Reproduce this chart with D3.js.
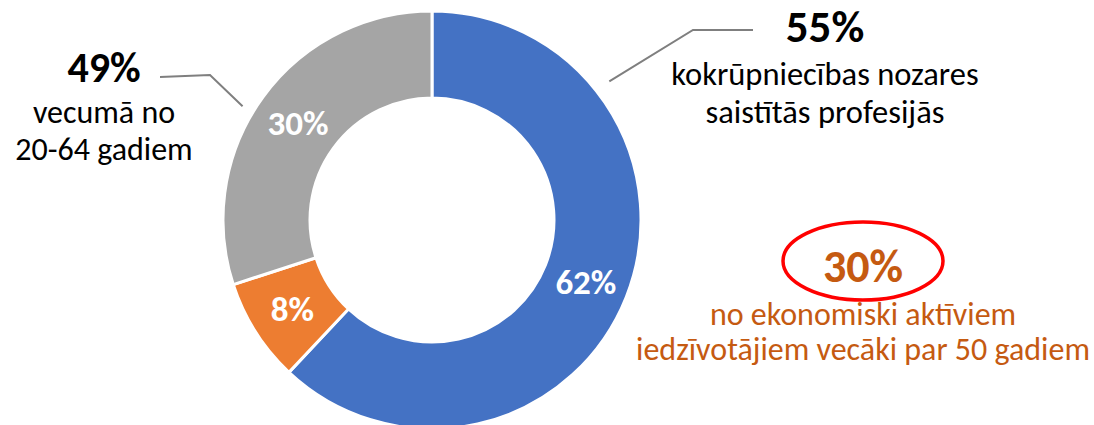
<!DOCTYPE html>
<html>
<head>
<meta charset="utf-8">
<script src="https://cdn.jsdelivr.net/npm/d3@7"></script>
<style>
  html, body { margin: 0; padding: 0; background: #fff; }
  svg text { font-family: Carlito, Lato, "Open Sans", sans-serif; }
</style>
</head>
<body>
<div id="chart"></div>
<script>
// donut slices
var sliceNames = ["kokrūpniecības nozares", "citas nozares A", "citas nozares B"];
var sliceValues = [62, 8, 30];
var sliceColors = ["#4472C4", "#ED7D31", "#A5A5A5"];

// callouts
var leftCallout = ["49%", "vecumā no", "20-64 gadiem"];
var rightCallout = ["55%", "kokrūpniecības nozares", "saistītās profesijās"];
var bottomCallout = ["30%", "no ekonomiski aktīviem", "iedzīvotājiem vecāki par 50 gadiem"];

var width = 1094, height = 425;
var cx = 432, cy = 220,
    outerR = 209, innerR = 122;

var svg = d3.select("#chart").append("svg")
    .attr("width", width)
    .attr("height", height);

var g = svg.append("g")
    .attr("transform", "translate(" + cx + "," + cy + ")");

var pie = d3.pie().sort(null).value(function(d) { return d; });
var arc = d3.arc().innerRadius(innerR).outerRadius(outerR);
var arcs = pie(sliceValues);

g.selectAll("path.slice")
    .data(arcs)
    .enter().append("path")
    .attr("class", "slice")
    .attr("d", arc)
    .attr("fill", function(d, i) { return sliceColors[i]; })
    .attr("stroke", "#fff")
    .attr("stroke-width", 3);

g.selectAll("text.slice-label")
    .data(arcs)
    .enter().append("text")
    .attr("class", "slice-label")
    .attr("transform", function(d) { return "translate(" + arc.centroid(d) + ")"; })
    .attr("text-anchor", "middle")
    .attr("dy", "0.36em")
    .attr("fill", "#fff")
    .attr("font-weight", "bold")
    .attr("font-size", 35)
    .text(function(d) { return d.data + "%"; });

// point just outside the ring at a given angle (radians, clockwise from top)
function ringPoint(angle, r) {
  return [cx + r * Math.sin(angle), cy - r * Math.cos(angle)];
}

// leader lines
var leaderColor = "#7F7F7F";
var line = d3.line();
var pLeft = ringPoint(301 * Math.PI / 180, 221);
svg.append("path")
    .attr("d", line([pLeft, [210, 75], [160, 77]]))
    .attr("fill", "none")
    .attr("stroke", leaderColor)
    .attr("stroke-width", 2);

var pRight = ringPoint(52 * Math.PI / 180, 225);
svg.append("path")
    .attr("d", line([pRight, [693, 30], [753, 30]]))
    .attr("fill", "none")
    .attr("stroke", leaderColor)
    .attr("stroke-width", 2);

// callout text blocks
function callout(lines, x, baselines, color, bigSize, smallSize) {
  var t = svg.append("g");
  lines.forEach(function(s, i) {
    t.append("text")
      .attr("x", x)
      .attr("y", baselines[i])
      .attr("text-anchor", "middle")
      .attr("fill", color)
      .attr("font-weight", i === 0 ? "bold" : "normal")
      .attr("font-size", i === 0 ? bigSize : smallSize)
      .text(s);
  });
}

callout(leftCallout, 104, [82, 123, 160], "#000", 42, 32);
callout(rightCallout, 825, [42, 85, 123], "#000", 45, 32.5);

// red ellipse around the bottom figure
svg.append("ellipse")
    .attr("cx", 863)
    .attr("cy", 261)
    .attr("rx", 80)
    .attr("ry", 39)
    .attr("fill", "none")
    .attr("stroke", "#FF0000")
    .attr("stroke-width", 3.5);

callout(bottomCallout, 863, [282, 325, 360], "#C55A11", 46, 32);
</script>
</body>
</html>
